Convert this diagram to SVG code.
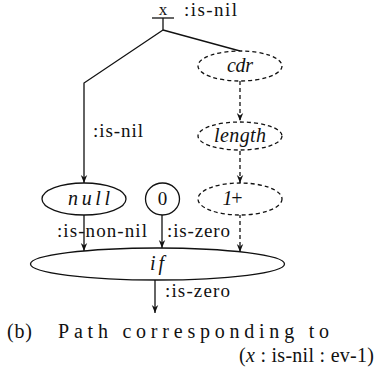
<svg xmlns="http://www.w3.org/2000/svg" width="376" height="372" viewBox="0 0 376 372">
<style>
text{font-family:"Liberation Serif","DejaVu Serif",serif;font-size:19px;fill:#111}
.it{font-style:italic;font-size:20px}
.cap{font-size:20px}
.n{fill:#fff;stroke:#111;stroke-width:1.3}
.d{stroke-dasharray:4 3}
.c{fill:none;stroke:#111;stroke-width:1.3}
</style>
<defs>
<marker id="a" viewBox="0 0 10 10" refX="10" refY="5" markerWidth="8" markerHeight="8" markerUnits="userSpaceOnUse" orient="auto">
<path d="M0,1 L10,5 L0,9 L3,5 Z" fill="#111"/>
</marker>
</defs>
<g id="connectors">
<line class="c" x1="152" y1="18" x2="174" y2="18"/>
<line class="c" x1="163" y1="18" x2="163" y2="30"/>
<polyline class="c" points="163,30 84,83 84,183" marker-end="url(#a)"/>
<line class="c" x1="163" y1="30" x2="240" y2="51"/>
<line class="c d" x1="240" y1="81" x2="240" y2="121" marker-end="url(#a)"/>
<line class="c d" x1="240" y1="151" x2="240" y2="183" marker-end="url(#a)"/>
<line class="c" x1="84" y1="214" x2="84" y2="251" marker-end="url(#a)"/>
<line class="c" x1="162" y1="215" x2="162" y2="248" marker-end="url(#a)"/>
<line class="c d" x1="240" y1="214" x2="240" y2="252" marker-end="url(#a)"/>
<line class="c" x1="155" y1="280" x2="155" y2="313" marker-end="url(#a)"/>
<text x="184" y="16" textLength="53">:is-nil</text>
<text x="93" y="137" textLength="50">:is-nil</text>
<text x="57" y="237" textLength="90">:is-non-nil</text>
<text x="167" y="237" textLength="63">:is-zero</text>
<text x="165" y="297" textLength="65">:is-zero</text>
</g>
<g id="x">
<text x="163" y="15" text-anchor="middle" style="font-size:17px">x</text>
</g>
<g id="cdr">
<ellipse class="n d" cx="240" cy="66" rx="42" ry="15"/>
<text class="it" x="240" y="72" text-anchor="middle" textLength="26">cdr</text>
</g>
<g id="length">
<ellipse class="n d" cx="240" cy="136" rx="42" ry="14"/>
<text class="it" x="240" y="142" text-anchor="middle" textLength="52">length</text>
</g>
<g id="null">
<ellipse class="n" cx="84" cy="199" rx="42" ry="16"/>
<text class="it" x="89" y="205" text-anchor="middle" textLength="42">null</text>
</g>
<g id="zero">
<ellipse class="n" cx="162.5" cy="199" rx="17" ry="16"/>
<text x="162.5" y="205" text-anchor="middle">0</text>
</g>
<g id="oneplus">
<ellipse class="n d" cx="240" cy="199" rx="42" ry="16"/>
<text class="it" x="233" y="205" text-anchor="middle" textLength="21">1+</text>
</g>
<g id="if">
<ellipse class="n" cx="157.5" cy="264" rx="127" ry="16"/>
<text class="it" x="157" y="270" text-anchor="middle" textLength="14">if</text>
</g>
<g id="caption">
<text class="cap" x="7" y="338" textLength="25">(b)</text>
<text class="cap" x="58" y="338" textLength="271">Path corresponding to</text>
<text class="cap" x="239" y="362" textLength="135">(<tspan style="font-style:italic">x</tspan> : is-nil : ev-1)</text>
</g>
</svg>
